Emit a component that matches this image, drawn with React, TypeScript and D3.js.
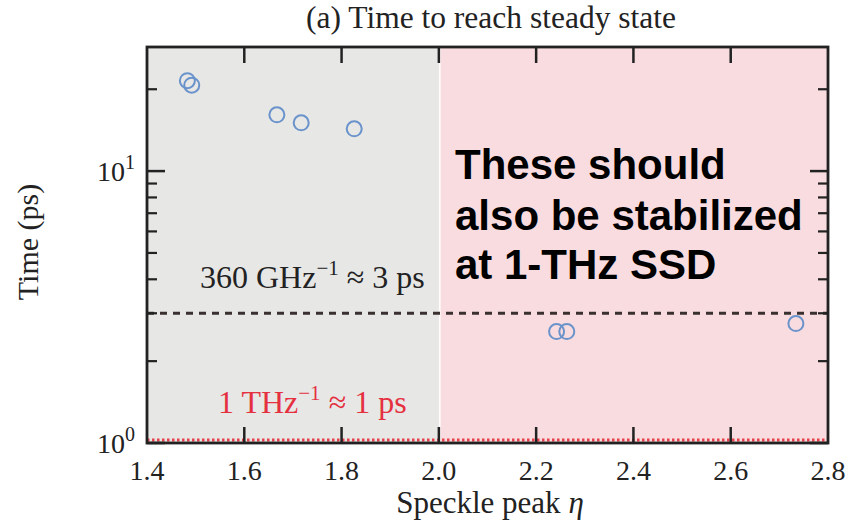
import React from 'react';
import * as d3 from 'd3';

const etaHigh = [1.483, 1.492, 1.667, 1.717, 1.826];
const timeHigh = [21.5, 20.7, 16.1, 15.05, 14.3];
const etaLow = [2.242, 2.263, 2.734];
const timeLow = [2.57, 2.57, 2.75];
const xTicks = [1.4, 1.6, 1.8, 2.0, 2.2, 2.4, 2.6, 2.8];
const yMajor = [1, 10];
const yMinor = [2, 3, 4, 5, 6, 7, 8, 9, 20];
const regionSplit = 2.0;
const sspdTime = 3;
const thzTime = 1;

const W = 849;
const H = 526;
const left = 147;
const right = 828;
const top = 47;
const bottom = 443;

const serif = '"Liberation Serif", "DejaVu Serif", serif';
const sans = '"Liberation Sans", Arial, sans-serif';

const App = () => {
  const x = d3.scaleLinear().domain([1.4, 2.8]).range([left, right]);
  const y = d3.scaleLog().domain([1, 28.6]).range([bottom, top]);

  const points = [
    ...etaHigh.map((e, i) => [e, timeHigh[i]]),
    ...etaLow.map((e, i) => [e, timeLow[i]]),
  ];

  return (
    <div style={{ position: 'absolute', left: 0, top: 0 }}>
      <svg width={W} height={H} style={{ display: 'block' }}>
        <rect x={0} y={0} width={W} height={H} fill="#fff" />
        {/* shaded regions */}
        <rect x={x(1.4)} y={top} width={x(regionSplit) - x(1.4)} height={bottom - top} fill="#e7e7e6" />
        <rect x={x(regionSplit)} y={top} width={x(2.8) - x(regionSplit)} height={bottom - top} fill="#f9dcdf" />
        <line x1={x(regionSplit) + 1} x2={x(regionSplit) + 1} y1={top} y2={bottom} stroke="#fff" strokeWidth={1.5} />

        {/* reference lines */}
        <line x1={left} x2={right} y1={y(sspdTime)} y2={y(sspdTime)} stroke="#3a3030" strokeWidth={3} strokeDasharray="7,6" />
        <line x1={left} x2={right} y1={y(thzTime) - 3} y2={y(thzTime) - 3} stroke="#e8404a" strokeWidth={2.8} strokeDasharray="2.5,2.5" />

        {/* ticks */}
        {xTicks.slice(1, -1).map((t) => (
          <g key={'xt' + t}>
            <line x1={x(t)} x2={x(t)} y1={bottom} y2={bottom - 16} stroke="#222" strokeWidth={2.5} />
            <line x1={x(t)} x2={x(t)} y1={top} y2={top + 16} stroke="#222" strokeWidth={2.5} />
          </g>
        ))}
        {yMajor.map((t) => (
          <g key={'ym' + t}>
            <line x1={left} x2={left + 18} y1={y(t)} y2={y(t)} stroke="#222" strokeWidth={2.5} />
            <line x1={right} x2={right - 18} y1={y(t)} y2={y(t)} stroke="#222" strokeWidth={2.5} />
          </g>
        ))}
        {yMinor.map((t) => (
          <g key={'yn' + t}>
            <line x1={left} x2={left + 10} y1={y(t)} y2={y(t)} stroke="#222" strokeWidth={2.2} />
            <line x1={right} x2={right - 10} y1={y(t)} y2={y(t)} stroke="#222" strokeWidth={2.2} />
          </g>
        ))}

        {/* frame */}
        <rect x={left} y={top} width={right - left} height={bottom - top} fill="none" stroke="#222" strokeWidth={2.8} />

        {/* points */}
        {points.map(([e, t], i) => (
          <circle key={i} cx={x(e)} cy={y(t)} r={7.5} fill="none" stroke="#6a93cb" strokeWidth={2} />
        ))}

        {/* annotations */}
        <text x={200} y={288} fontFamily={serif} fontSize={32} fill="#222">
          360 GHz<tspan fontSize={21} dy={-13}>−1</tspan>
          <tspan dy={13}> ≈ 3 ps</tspan>
        </text>
        <text x={218} y={413} fontFamily={serif} fontSize={32} fill="#e5303f">
          1 THz<tspan fontSize={21} dy={-13}>−1</tspan>
          <tspan dy={13}> ≈ 1 ps</tspan>
        </text>
        <g fontFamily={sans} fontWeight="bold" fontSize={42} fill="#000">
          <text x={455} y={179}>These should</text>
          <text x={455} y={230}>also be stabilized</text>
          <text x={455} y={279}>at 1-THz SSD</text>
        </g>

        {/* tick labels */}
        {xTicks.map((t) => (
          <text key={'xl' + t} x={x(t)} y={480} textAnchor="middle" fontFamily={serif} fontSize={28} fill="#222">
            {t.toFixed(1)}
          </text>
        ))}
        {yMajor.map((t) => (
          <text key={'yl' + t} x={135} y={y(t) + 10} textAnchor="end" fontFamily={serif} fontSize={28} fill="#222">
            10<tspan fontSize={20} dy={-12}>{Math.round(Math.log10(t))}</tspan>
          </text>
        ))}

        {/* titles */}
        <text x={491} y={28} textAnchor="middle" fontFamily={serif} fontSize={31.5} fill="#222">
          (a) Time to reach steady state
        </text>
        <text x={490} y={513} textAnchor="middle" fontFamily={serif} fontSize={31} fill="#222">
          Speckle peak <tspan fontStyle="italic">η</tspan>
        </text>
        <text transform="translate(38,242) rotate(-90)" textAnchor="middle" fontFamily={serif} fontSize={30} fill="#222">
          Time (ps)
        </text>
      </svg>
    </div>
  );
};

export default App;
